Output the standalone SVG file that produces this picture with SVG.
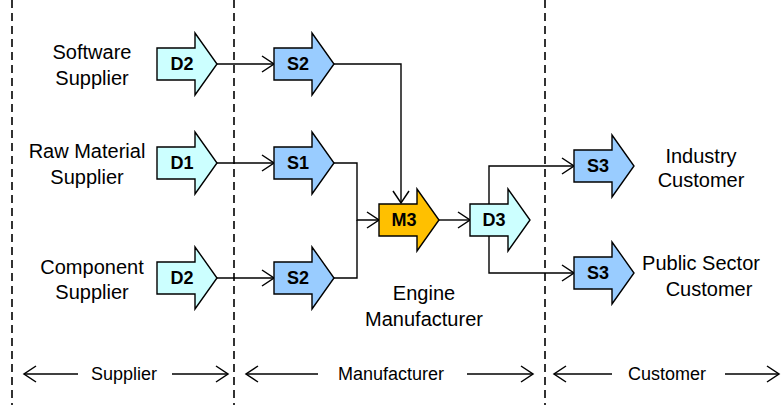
<svg xmlns="http://www.w3.org/2000/svg" width="782" height="405" viewBox="0 0 782 405">
  <defs>
    <style>
      .blk { stroke: #000; stroke-width: 1.4; stroke-linejoin: miter; }
      .d { fill: #CCFFFF; }
      .s { fill: #99CCFF; }
      .m { fill: #FFC000; }
      .lbl { font-family: "Liberation Sans", Arial, sans-serif; font-weight: bold; font-size: 18px; text-anchor: middle; fill: #000; }
      .txt { font-family: "Liberation Sans", Arial, sans-serif; font-size: 20px; text-anchor: middle; fill: #000; }
      .band { font-family: "Liberation Sans", Arial, sans-serif; font-size: 18px; text-anchor: middle; fill: #000; }
      .wire { fill: none; stroke: #000; stroke-width: 1.4; }
      .dash { stroke: #000; stroke-width: 1.6; stroke-dasharray: 8 5; }
    </style>
    <!-- block arrow shape, body 0..38, head to 60, centred on y=0 -->
    <path id="blk" d="M0,-16 H38 V-31 L60,0 L38,31 V16 H0 Z"/>
    <marker id="open" markerUnits="userSpaceOnUse" markerWidth="16" markerHeight="18" refX="12" refY="8" orient="auto" overflow="visible">
      <path d="M0,0 L12,8 L0,16" fill="none" stroke="#000" stroke-width="1.5"/>
    </marker>
  </defs>
  <rect width="782" height="405" fill="#fff"/>

  <!-- zone separators -->
  <g id="separators">
    <line class="dash" x1="12" y1="0" x2="12" y2="405"/>
    <line class="dash" x1="234" y1="0" x2="234" y2="405"/>
    <line class="dash" x1="545" y1="0" x2="545" y2="405"/>
  </g>

  <!-- connectors -->
  <g id="connectors">
    <path class="wire" d="M217,64 H274" marker-end="url(#open)"/>
    <path class="wire" d="M217,163 H274" marker-end="url(#open)"/>
    <path class="wire" d="M217,278 H274" marker-end="url(#open)"/>
    <path class="wire" d="M334,64 H401 V203" marker-end="url(#open)"/>
    <path class="wire" d="M334,163 H357 V220 H379" marker-end="url(#open)"/>
    <path class="wire" d="M334,278 H357 V220"/>
    <path class="wire" d="M439,220 H470" marker-end="url(#open)"/>
    <path class="wire" d="M489,204 V166 H574" marker-end="url(#open)"/>
    <path class="wire" d="M489,236 V273 H574" marker-end="url(#open)"/>
  </g>

  <!-- left: suppliers -->
  <g id="software-supplier">
    <text class="txt" x="92" y="59">Software</text>
    <text class="txt" x="92" y="85">Supplier</text>
  </g>
  <g id="raw-material-supplier">
    <text class="txt" x="87" y="158">Raw Material</text>
    <text class="txt" x="87" y="184">Supplier</text>
  </g>
  <g id="component-supplier">
    <text class="txt" x="92" y="274">Component</text>
    <text class="txt" x="92" y="299">Supplier</text>
  </g>

  <g id="node-d2-top">
    <use href="#blk" class="blk d" x="157" y="64"/>
    <text class="lbl" x="182" y="70">D2</text>
  </g>
  <g id="node-d1">
    <use href="#blk" class="blk d" x="157" y="163"/>
    <text class="lbl" x="182" y="169">D1</text>
  </g>
  <g id="node-d2-bottom">
    <use href="#blk" class="blk d" x="157" y="278"/>
    <text class="lbl" x="182" y="284">D2</text>
  </g>

  <!-- manufacturer -->
  <g id="node-s2-top">
    <use href="#blk" class="blk s" x="274" y="64"/>
    <text class="lbl" x="298" y="70">S2</text>
  </g>
  <g id="node-s1">
    <use href="#blk" class="blk s" x="274" y="163"/>
    <text class="lbl" x="298" y="169">S1</text>
  </g>
  <g id="node-s2-bottom">
    <use href="#blk" class="blk s" x="274" y="278"/>
    <text class="lbl" x="298" y="284">S2</text>
  </g>
  <g id="node-m3">
    <use href="#blk" class="blk m" x="379" y="220"/>
    <text class="lbl" x="404" y="226">M3</text>
  </g>
  <g id="node-d3">
    <use href="#blk" class="blk d" x="470" y="220"/>
    <text class="lbl" x="494" y="226">D3</text>
  </g>
  <g id="engine-manufacturer">
    <text class="txt" x="424" y="300">Engine</text>
    <text class="txt" x="424" y="326">Manufacturer</text>
  </g>

  <!-- customers -->
  <g id="node-s3-top">
    <use href="#blk" class="blk s" x="574" y="166"/>
    <text class="lbl" x="598" y="172">S3</text>
  </g>
  <g id="node-s3-bottom">
    <use href="#blk" class="blk s" x="574" y="273"/>
    <text class="lbl" x="598" y="279">S3</text>
  </g>
  <g id="industry-customer">
    <text class="txt" x="701" y="163">Industry</text>
    <text class="txt" x="701" y="187">Customer</text>
  </g>
  <g id="public-sector-customer">
    <text class="txt" x="701" y="270">Public Sector</text>
    <text class="txt" x="709" y="296">Customer</text>
  </g>

  <!-- zone spans -->
  <g id="zone-supplier">
    <path class="wire" d="M78,374 H24" marker-end="url(#open)"/>
    <text class="band" x="124" y="380">Supplier</text>
    <path class="wire" d="M172,374 H228" marker-end="url(#open)"/>
  </g>
  <g id="zone-manufacturer">
    <path class="wire" d="M318,374 H246" marker-end="url(#open)"/>
    <text class="band" x="391" y="380">Manufacturer</text>
    <path class="wire" d="M467,374 H533" marker-end="url(#open)"/>
  </g>
  <g id="zone-customer">
    <path class="wire" d="M612,374 H554" marker-end="url(#open)"/>
    <text class="band" x="667" y="380">Customer</text>
    <path class="wire" d="M725,374 H779" marker-end="url(#open)"/>
  </g>
</svg>
